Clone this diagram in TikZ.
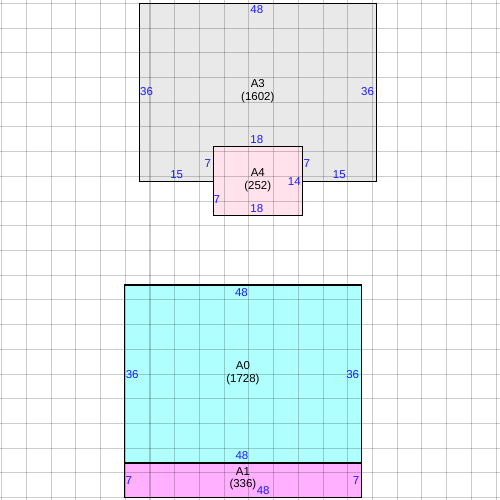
\documentclass[tikz,border=0pt]{standalone}
\usepackage{fontspec}
\setmainfont{Liberation Sans}
\usepackage{tikz}
\usetikzlibrary{positioning}

\definecolor{areaGrey}{HTML}{E9E9E9}
\definecolor{areaPink}{HTML}{FFE2EC}
\definecolor{areaCyan}{HTML}{B0FFFF}
\definecolor{areaMagenta}{HTML}{FFB0FF}
\definecolor{lenBlue}{HTML}{1A1AFF}

\tikzset{
    area/.style={align=center, inner sep=0pt, font=\fontsize{6.6}{7.1}\selectfont},
    len/.style={text=lenBlue, inner sep=0pt, font=\fontsize{6.6}{7.1}\selectfont},
    gridline/.style={black, opacity=0.2, line width=0.6pt},
    border/.style={black, line width=0.7pt},
}

\begin{document}
\begin{tikzpicture}[x=1mm,y=-1mm]
    \useasboundingbox (-0.34,-0.67) rectangle (100.79,100.47);

    % fills
    \fill[areaGrey] (27.8,0) -- (75.8,0) -- (75.8,36) -- (60.8,36) -- (60.8,29) -- (42.8,29) -- (42.8,36) -- (27.8,36) -- cycle;
    \fill[areaPink] (42.8,29) rectangle (60.8,43);
    \fill[areaCyan] (24.8,57) rectangle (72.8,93);
    \fill[areaMagenta] (24.8,93) rectangle (72.8,100);

    % grid
    \foreach \g in {0,5,...,100} {
        \draw[gridline] (\g,-0.67) -- (\g,100.47);
        \draw[gridline] (-0.34,\g) -- (100.79,\g);
    }

    % outlines
    \draw[border] (42.8,36) -- (27.8,36) -- (27.8,0) -- (75.8,0) -- (75.8,36) -- (60.8,36);
    \draw[border] (42.8,29) rectangle (60.8,43);
    \draw[border] (24.8,57) rectangle (72.8,100);
    \draw[border] (24.8,93) -- (72.8,93);

    \node[area] at (51.8,17.8) (a3) {A3\\(1602)};
    \node[area] at (51.8,35.8) (a4) {A4\\(252)};
    \node[area] at (48.8,74.8) (a0) {A0\\(1728)};
    \node[area] at (48.8,96.2) (a1) {A1\\(336)};

    \node[len] at (51.6,1.36) (a3top) {48};
    \node[len] at (29.3,17.9) (a3left) {36};
    \node[len] at (74.0,17.9) (a3right) {36};
    \node[len] at (51.6,27.65) (a3notch) {18};
    \node[len] at (41.7,32.4) (a3notchl) {7};
    \node[len] at (61.7,32.4) (a3notchr) {7};
    \node[len] at (35.4,34.7) (a3botl) {15};
    \node[len] at (68.3,34.7) (a3botr) {15};

    \node[len] at (59.2,36.0) (a4right) {14};
    \node[len] at (43.5,39.6) (a4left) {7};
    \node[len] at (51.6,41.6) (a4bot) {18};

    \node[len] at (48.5,58.45) (a0top) {48};
    \node[len] at (26.4,75.0) (a0left) {36};
    \node[len] at (71.0,75.0) (a0right) {36};
    \node[len] at (48.6,91.5) (a0bot) {48};

    \node[len] at (25.7,96.5) (a1left) {7};
    \node[len] at (71.7,96.5) (a1right) {7};
    \node[len] at (52.9,98.6) (a1bot) {48};
\end{tikzpicture}
\end{document}
